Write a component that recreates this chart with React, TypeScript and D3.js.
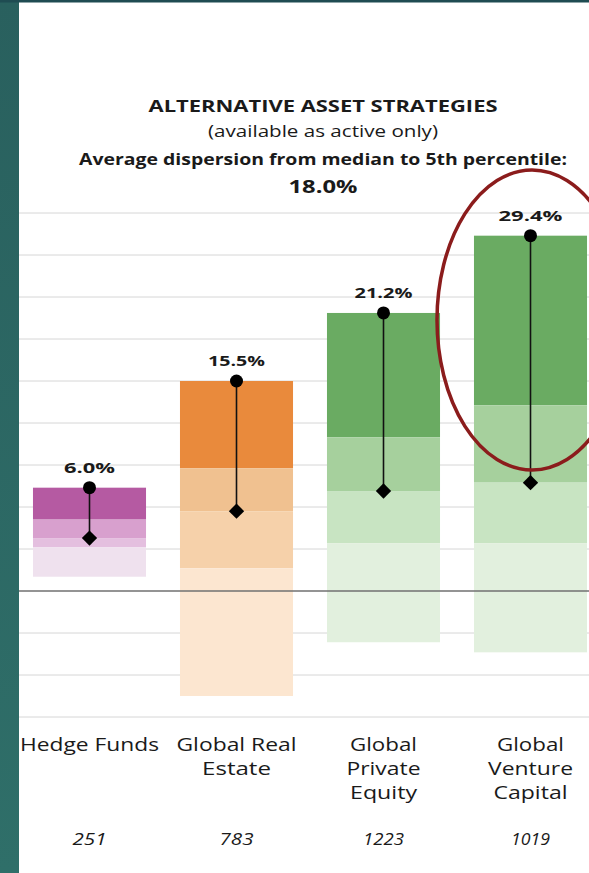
import React from "react";
import * as d3 from "d3";

const categories = ["Hedge Funds", "Global Real Estate", "Global Private Equity", "Global Venture Capital"];
const categoryLines = [["Hedge Funds"], ["Global Real", "Estate"], ["Global", "Private", "Equity"], ["Global", "Venture", "Capital"]];
const p5 = [12.3, 25.0, 33.1, 42.3];
const p25 = [8.5, 14.6, 18.3, 22.1];
const p50 = [6.3, 9.5, 11.9, 12.9];
const p75 = [5.2, 2.7, 5.7, 5.7];
const p95 = [1.7, -12.5, -6.1, -7.3];
const dispersionLabels = ["6.0%", "15.5%", "21.2%", "29.4%"];
const counts = ["251", "783", "1223", "1019"];
const gridTicks = [-15, -10, -5, 0, 5, 10, 15, 20, 25, 30, 35, 40, 45];
const titleLines = ["ALTERNATIVE ASSET STRATEGIES", "(available as active only)", "Average dispersion from median to 5th percentile:", "18.0%"];

const palettes = [
  ["#b55aa2", "#d8a0ce", "#e4bfdf", "#efe1ee"],
  ["#e98a3c", "#f0c190", "#f6d1aa", "#fce6d0"],
  ["#6aab62", "#a6d09d", "#c8e4c2", "#e2f0de"],
  ["#6aab62", "#a6d09d", "#c8e4c2", "#e2f0de"],
];

const W = 589;
const H = 873;
const FONT = "'Open Sans', Lato, sans-serif";

export default function App() {
  const x = d3.scaleBand<string>().domain(categories).range([16, 604]).paddingInner(0.231).paddingOuter(0.1155);
  const y = d3.scaleLinear().domain([-15, 45]).range([717, 213]);
  const bw = x.bandwidth();
  const diamond = d3.symbol().type(d3.symbolDiamond2).size(150);

  const titleSpecs = [
    { y: 112, size: 16, weight: 700, len: 349 },
    { y: 137, size: 15.5, weight: 400, len: 230 },
    { y: 165, size: 16.5, weight: 700, len: 488 },
    { y: 193, size: 17, weight: 700, len: 69 },
  ];
  const valueLens = [51, 57, 58, 64];
  const lineLens = [[139], [120, 69], [67, 74, 67], [67, 85, 74]];
  const countLens = [34, 34, 41, 39];

  return (
    <svg width={W} height={H} style={{ position: "absolute", left: 0, top: 0 }} fontFamily={FONT}>
      <defs>
        <linearGradient id="teal" x1="0" y1="0" x2="0" y2="1">
          <stop offset="0" stopColor="#29605e" />
          <stop offset="1" stopColor="#2f6f69" />
        </linearGradient>
      </defs>
      <rect x={0} y={0} width={W} height={H} fill="#ffffff" />
      {gridTicks.filter((t) => t !== 0).map((t) => (
        <line key={t} x1={19} x2={W} y1={y(t)} y2={y(t)} stroke="#d6d6d6" strokeWidth={1} />
      ))}
      {categories.map((c, i) => {
        const bounds = [p5[i], p25[i], p50[i], p75[i], p95[i]];
        const x0 = x(c)!;
        return (
          <g key={c}>
            {[0, 1, 2, 3].map((k) => (
              <rect
                key={k}
                x={x0}
                y={y(bounds[k])}
                width={bw}
                height={y(bounds[k + 1]) - y(bounds[k])}
                fill={palettes[i][k]}
              />
            ))}
          </g>
        );
      })}
      <line x1={19} x2={W} y1={y(0)} y2={y(0)} stroke="#707070" strokeWidth={1.5} />
      {categories.map((c, i) => {
        const cx = x(c)! + bw / 2;
        return (
          <g key={c}>
            <line x1={cx} x2={cx} y1={y(p5[i])} y2={y(p50[i])} stroke="#111" strokeWidth={1.6} />
            <circle cx={cx} cy={y(p5[i])} r={6.5} fill="#000" />
            <path d={diamond()!} transform={`translate(${cx},${y(p50[i])})`} fill="#000" />
            <text
              x={cx}
              y={y(p5[i]) - 15}
              textAnchor="middle"
              fontSize={15}
              fontWeight={700}
              fill="#1a1a1a"
              textLength={valueLens[i]}
              lengthAdjust="spacingAndGlyphs"
            >
              {dispersionLabels[i]}
            </text>
          </g>
        );
      })}
      {titleLines.map((t, i) => (
        <text
          key={t}
          x={323}
          y={titleSpecs[i].y}
          textAnchor="middle"
          fontSize={titleSpecs[i].size}
          fontWeight={titleSpecs[i].weight}
          fill="#1a1a1a"
          textLength={titleSpecs[i].len}
          lengthAdjust="spacingAndGlyphs"
        >
          {t}
        </text>
      ))}
      {categories.map((c, i) => {
        const cx = x(c)! + bw / 2;
        return (
          <g key={c}>
            {categoryLines[i].map((ln, j) => (
              <text
                key={ln}
                x={cx}
                y={751 + j * 24}
                textAnchor="middle"
                fontSize={19}
                fill="#1a1a1a"
                textLength={lineLens[i][j]}
                lengthAdjust="spacingAndGlyphs"
              >
                {ln}
              </text>
            ))}
            <text
              x={cx}
              y={845}
              textAnchor="middle"
              fontSize={16}
              fontStyle="italic"
              fill="#1a1a1a"
              textLength={countLens[i]}
              lengthAdjust="spacingAndGlyphs"
            >
              {counts[i]}
            </text>
          </g>
        );
      })}
      <ellipse cx={532} cy={320} rx={95} ry={150} fill="none" stroke="#8b1c1c" strokeWidth={3.5} />
      <rect x={0} y={0} width={19} height={H} fill="url(#teal)" />
      <rect x={0} y={0} width={W} height={2.5} fill="#1f4c52" />
    </svg>
  );
}
